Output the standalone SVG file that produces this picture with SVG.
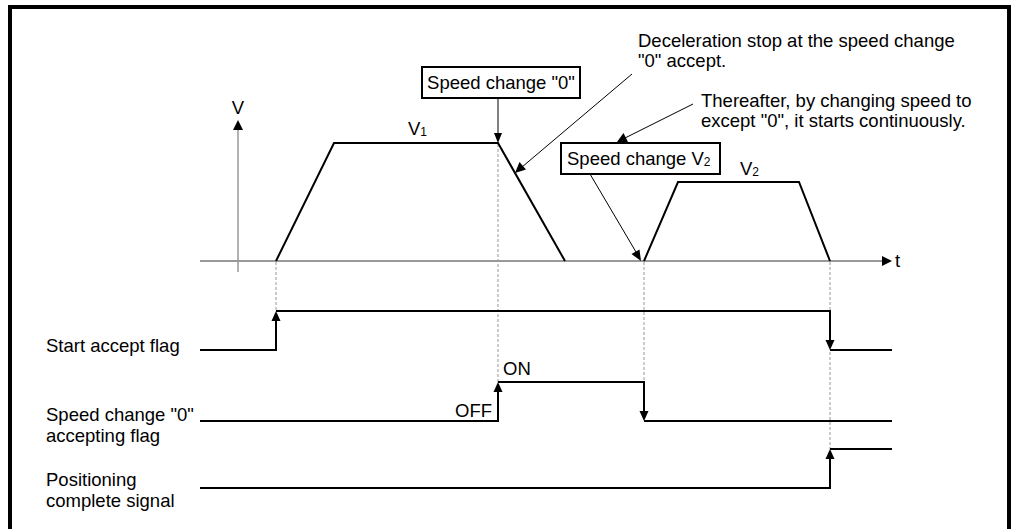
<svg xmlns="http://www.w3.org/2000/svg" width="1011" height="529" viewBox="0 0 1011 529">
<style>
.t{font-family:"Liberation Sans",Arial,sans-serif;font-size:18.5px;fill:#000}
.s{font-size:12px}
.sig{fill:none;stroke:#000;stroke-width:2}
.ax{fill:none;stroke:#999;stroke-width:2}
.dot{fill:none;stroke:#999;stroke-width:1;stroke-dasharray:3 2}
.ld{fill:none;stroke:#000;stroke-width:1}
.box{fill:#fff;stroke:#000;stroke-width:2}
.ah{fill:#000;stroke:none}
</style>
<rect x="10" y="7" width="999" height="540" fill="none" stroke="#000" stroke-width="4"/>
<g id="axes">
<line class="ax" x1="200" y1="261" x2="884" y2="261"/>
<polygon class="ah" points="892,261 882,256 882,266"/>
<line class="ax" x1="238" y1="272" x2="238" y2="128" style="stroke-width:1.5"/>
<polygon class="ah" points="238,120 233,130 243,130"/>
<text class="t" x="238" y="114" text-anchor="middle">V</text>
<text class="t" x="895" y="267">t</text>
</g>
<g id="guides">
<line class="dot" x1="276" y1="262" x2="276" y2="311"/>
<line class="dot" x1="498" y1="144" x2="498" y2="382"/>
<line class="dot" x1="644" y1="262" x2="644" y2="421"/>
<line class="dot" x1="830" y1="262" x2="830" y2="449"/>
</g>
<g id="speed-profile">
<polyline class="sig" points="276,261 334,143 498,143 565,261"/>
<polyline class="sig" points="644,261 678,182 799,182 830,261"/>
<text class="t" x="408" y="135">V<tspan class="s" dy="1">1</tspan></text>
<text class="t" x="740" y="175">V<tspan class="s" dy="1">2</tspan></text>
</g>
<g id="box-speed-change-0">
<rect class="box" x="422" y="67" width="158" height="31"/>
<text class="t" x="501" y="89" text-anchor="middle">Speed change "0"</text>
</g>
<g id="box-speed-change-v2">
<rect class="box" x="561" y="143" width="159" height="31"/>
<text class="t" x="567" y="165">Speed change V<tspan class="s" dy="1">2</tspan></text>
</g>
<g id="note-deceleration">
<text class="t" x="638" y="47">Deceleration stop at the speed change</text>
<text class="t" x="638" y="67">"0" accept.</text>
</g>
<g id="note-thereafter">
<text class="t" x="701" y="107">Thereafter, by changing speed to</text>
<text class="t" x="701" y="127">except "0", it starts continuously.</text>
</g>
<g id="connectors">
<line class="ld" x1="498" y1="98" x2="498" y2="134"/>
<polygon class="ah" points="498,143 494,133 502,133"/>
<line class="ld" x1="632" y1="74" x2="522" y2="167"/>
<polygon class="ah" points="515,173 519.5,162 526,169.6"/>
<line class="ld" x1="693" y1="104" x2="625" y2="138"/>
<polygon class="ah" points="617,142 623.5,133 628,142"/>
<line class="ld" x1="590" y1="174" x2="636" y2="252"/>
<polygon class="ah" points="641,261 631.5,254 639.5,249.5"/>
</g>
<g id="signal-start-accept">
<text class="t" x="46" y="352">Start accept flag</text>
<polyline class="sig" points="200,350 276,350 276,320"/>
<polyline class="sig" points="276,311 830,311 830,341"/>
<polyline class="sig" points="830,350 892,350"/>
<polygon class="ah" points="276,311 271.5,321 280.5,321"/>
<polygon class="ah" points="830,350 825.5,340 834.5,340"/>
</g>
<g id="signal-speed-change-0">
<text class="t" x="46" y="421">Speed change "0"</text>
<text class="t" x="46" y="442">accepting flag</text>
<polyline class="sig" points="200,421 498,421 498,391"/>
<polyline class="sig" points="498,382 644,382 644,412"/>
<polyline class="sig" points="644,421 892,421"/>
<polygon class="ah" points="498,382 493.5,392 502.5,392"/>
<polygon class="ah" points="644,421 639.5,411 648.5,411"/>
<text class="t" x="455" y="417">OFF</text>
<text class="t" x="503" y="375">ON</text>
</g>
<g id="signal-positioning-complete">
<text class="t" x="46" y="486">Positioning</text>
<text class="t" x="46" y="507">complete signal</text>
<polyline class="sig" points="200,488 830,488 830,458"/>
<polyline class="sig" points="830,449 892,449"/>
<polygon class="ah" points="830,449 825.5,459 834.5,459"/>
</g>
</svg>
